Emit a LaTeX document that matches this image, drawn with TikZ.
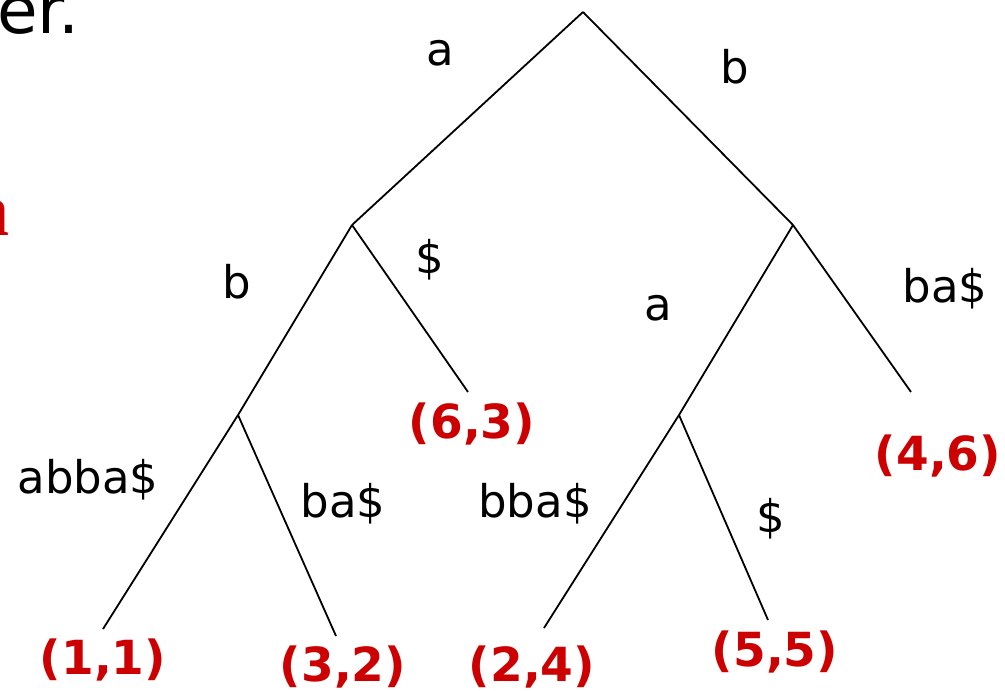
\documentclass[tikz,border=0pt]{standalone}
\usepackage{fontspec}
\setmainfont{DejaVu Sans}
\newfontfamily\serifred{Liberation Serif}
\definecolor{lblred}{RGB}{204,0,0}
\tikzset{
  edge/.style={draw=black, line width=1.8pt},
  elabel/.style={font=\fontsize{45}{50}\selectfont, inner sep=0pt, anchor=base},
  leaflabel/.style={font=\fontsize{47}{50}\selectfont\bfseries, text=lblred, inner sep=0pt, anchor=base}
}
\begin{document}
\begin{tikzpicture}[x=1pt, y=-1pt]
\useasboundingbox (0,0) rectangle (1005,691);
\clip (0,0) rectangle (1005,691);
% partial texts at left edge
\node[font=\fontsize{66}{70}\selectfont, inner sep=0pt, anchor=base east] (title) at (80,33) {er.};
\node[font=\fontsize{76}{80}\selectfont\serifred\bfseries, text=lblred, inner sep=0pt, anchor=base east] (reda) at (10,235) {a};
% tree vertices
\coordinate (root) at (583,12);
\coordinate (L) at (352,225);
\coordinate (R) at (793,225);
\coordinate (LL) at (238,415);
\coordinate (RL) at (679,415);
\coordinate (e63) at (468,392);
\coordinate (e46) at (911,392);
\coordinate (e11) at (103,629);
\coordinate (e32) at (336,636);
\coordinate (e24) at (544,628);
\coordinate (e55) at (768,620);
% edges
\draw[edge] (root) -- (L);
\draw[edge] (root) -- (R);
\draw[edge] (L) -- (LL);
\draw[edge] (L) -- (e63);
\draw[edge] (R) -- (RL);
\draw[edge] (R) -- (e46);
\draw[edge] (LL) -- (e11);
\draw[edge] (LL) -- (e32);
\draw[edge] (RL) -- (e24);
\draw[edge] (RL) -- (e55);
% edge labels
\node[elabel] (la) at (440,65) {a};
\node[elabel] (lb) at (735,83) {b};
\node[elabel] (lLb) at (237,298) {b};
\node[elabel] (lLd) at (430,273) {\$};
\node[elabel] (lRa) at (658,320) {a};
\node[elabel] (lRba) at (945,302) {ba\$};
\node[elabel] (labba) at (88,493) {abba\$};
\node[elabel] (lba) at (343,517) {ba\$};
\node[elabel] (lbba) at (535,517) {bba\$};
\node[elabel] (ld) at (771,532) {\$};
% leaf labels
\node[leaflabel] (n63) at (472,438) {(6,3)};
\node[leaflabel] (n46) at (938,470) {(4,6)};
\node[leaflabel] (n11) at (103,674) {(1,1)};
\node[leaflabel] (n32) at (343,681) {(3,2)};
\node[leaflabel] (n24) at (532,681) {(2,4)};
\node[leaflabel] (n55) at (775,666) {(5,5)};
\end{tikzpicture}
\end{document}
